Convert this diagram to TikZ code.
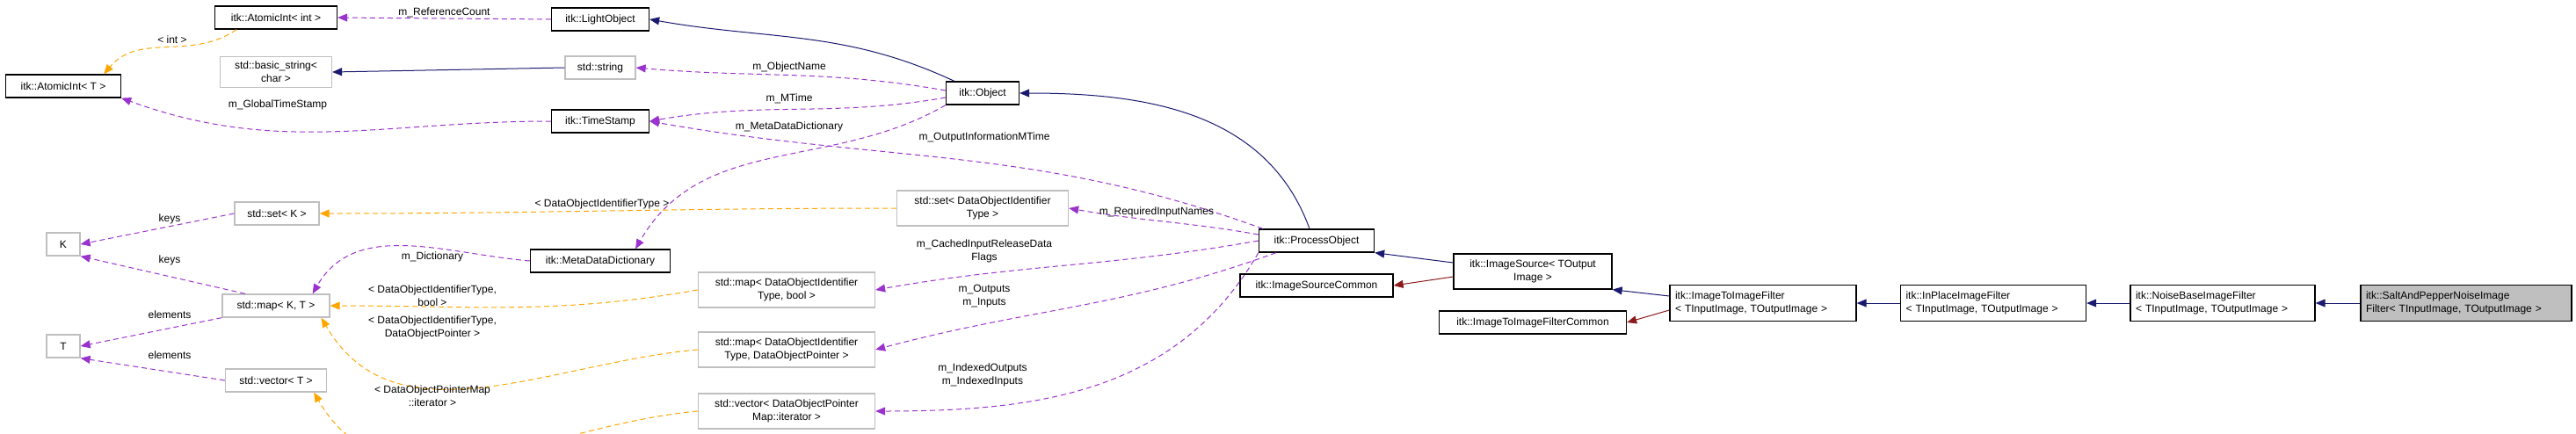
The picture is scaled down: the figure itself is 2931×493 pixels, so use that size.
\documentclass[tikz,border=0pt]{standalone}
\usepackage{fontspec}
\setmainfont{Liberation Sans}
\usetikzlibrary{arrows.meta,calc}
\definecolor{mem}{HTML}{9A32CD}
\definecolor{tpl}{HTML}{FFA500}
\definecolor{inh}{HTML}{191970}
\definecolor{prv}{HTML}{8B1A1A}
\definecolor{gbd}{HTML}{BFBFBF}
\begin{document}
\begin{tikzpicture}[x=1pt,y=-1pt,
  every node/.style={font=\fontsize{12}{15}\selectfont},
  box/.style={draw=black,line width=1.3pt,fill=white,inner sep=0pt,align=center},
  gbox/.style={box,draw=gbd},
  lbl/.style={align=center,inner sep=1pt},
  tip/.style={-{Triangle[length=11pt,width=9pt]}},
  mem/.style={tip,draw=mem,dash pattern=on 6pt off 4pt,line width=1pt},
  tpl/.style={tip,draw=tpl,dash pattern=on 6pt off 4pt,line width=1pt},
  inh/.style={tip,draw=inh,line width=1pt},
  prv/.style={tip,draw=prv,line width=1pt}]
\useasboundingbox (0,0) rectangle (2931,493);
% nodes
\node[box,minimum width=139,minimum height=26] (ai) at (314,20) {itk::AtomicInt< int >};
\node[box,minimum width=111,minimum height=26] (lo) at (683,22) {itk::LightObject};
\node[gbox,minimum width=127,minimum height=35] (bs) at (314,82) {std::basic\_string<\\char >};
\node[gbox,minimum width=80,minimum height=26] (ss) at (683,77) {std::string};
\node[box,minimum width=131,minimum height=26] (at) at (72,98) {itk::AtomicInt< T >};
\node[box,minimum width=111,minimum height=26] (ts) at (683,138) {itk::TimeStamp};
\node[box,minimum width=83,minimum height=26] (ob) at (1118,106) {itk::Object};
\node[gbox,minimum width=96,minimum height=26] (sk) at (315,243) {std::set< K >};
\node[gbox,minimum width=38,minimum height=26] (k) at (72,278) {K};
\node[box,minimum width=159,minimum height=26] (md) at (683,297) {itk::MetaDataDictionary};
\node[gbox,minimum width=122,minimum height=26] (mkt) at (314,348) {std::map< K, T >};
\node[gbox,minimum width=38,minimum height=26] (t) at (72,394) {T};
\node[gbox,minimum width=115,minimum height=26] (vt) at (314,433) {std::vector< T >};
\node[gbox,minimum width=195,minimum height=40] (sd) at (1118,237) {std::set< DataObjectIdentifier\\Type >};
\node[gbox,minimum width=201,minimum height=40] (mb) at (895,330) {std::map< DataObjectIdentifier\\Type, bool >};
\node[gbox,minimum width=201,minimum height=40] (mp) at (895,398) {std::map< DataObjectIdentifier\\Type, DataObjectPointer >};
\node[gbox,minimum width=201,minimum height=40] (vp) at (895,468) {std::vector< DataObjectPointer\\Map::iterator >};
\node[box,minimum width=131,minimum height=26] (po) at (1498,274) {itk::ProcessObject};
\node[box,minimum width=174,minimum height=26] (isc) at (1498,325) {itk::ImageSourceCommon};
\node[box,minimum width=180,minimum height=40] (is) at (1744,309) {itk::ImageSource< TOutput\\Image >};
\node[box,minimum width=213,minimum height=26] (ifc) at (1744,367) {itk::ImageToImageFilterCommon};
\node[box,minimum width=212,minimum height=41,align=left,text width=200] (iif) at (2006,345) {itk::ImageToImageFilter\\< TInputImage, TOutputImage >};
\node[box,minimum width=211,minimum height=41,align=left,text width=199] (ip) at (2268,345) {itk::InPlaceImageFilter\\< TInputImage, TOutputImage >};
\node[box,minimum width=210,minimum height=41,align=left,text width=198] (nb) at (2529,345) {itk::NoiseBaseImageFilter\\< TInputImage, TOutputImage >};
\node[box,fill=gbd,minimum width=240,minimum height=41,align=left,text width=228] (sp) at (2806,345) {itk::SaltAndPepperNoiseImage\\Filter< TInputImage, TOutputImage >};
% edges
\draw[mem] (lo.west) -- (ai.east) node[lbl,midway,above] {m\_ReferenceCount};
\draw[inh] ($(ob.north west)+(10,0)$) to[out=155,in=-10] (lo.east);
\draw[tpl] ($(ai.south)+(-45,0)$) to[out=215,in=50] ($(at.north east)+(-20,0)$);
\node[lbl] (l1) at (196,45) {< int >};
\draw[inh] (ss.west) -- (bs.east);
\draw[mem] ($(ob.west)+(0,-3)$) to[out=170,in=-5] (ss.east);
\node[lbl] (l2) at (898,76) {m\_ObjectName};
\draw[mem] ($(ob.west)+(0,5)$) to[out=190,in=10] (ts.east);
\node[lbl] (l3) at (898,112) {m\_MTime};
\draw[mem] (ts.west) to[out=180,in=-20] (at.south east);
\node[lbl] (l4) at (316,119) {m\_GlobalTimeStamp};
\draw[mem] ($(po.north west)+(5,0)$) to[out=160,in=-10] (ts.east);
\node[lbl] (l5) at (1120,156) {m\_OutputInformationMTime};
\draw[mem] (ob.south west) to[out=210,in=60] ($(md.north)+(40,0)$);
\node[lbl] (l6) at (898,144) {m\_MetaDataDictionary};
\draw[mem] (md.west) to[out=175,in=60] ($(mkt.north east)+(-20,0)$);
\node[lbl] (l7) at (492,292) {m\_Dictionary};
\draw[mem] (sk.west) -- (k.east);
\node[lbl] (l8) at (193,249) {keys};
\draw[mem] ($(mkt.north)+(-35,0)$) -- (k.south east);
\node[lbl] (l9) at (193,296) {keys};
\draw[mem] (mkt.south west) -- (t.east);
\node[lbl] (l10) at (193,358) {elements};
\draw[mem] (vt.west) -- (t.south east);
\node[lbl] (l11) at (193,404) {elements};
\draw[tpl] (sd.west) to[out=180,in=0] (sk.east);
\node[lbl] (l12) at (685,232) {< DataObjectIdentifierType >};
\draw[tpl] (mb.west) to[out=190,in=0] (mkt.east);
\node[lbl] (l13) at (492,337) {< DataObjectIdentifierType,\\bool >};
\draw[tpl] (mp.west) to[out=185,in=-60] ($(mkt.south east)+(-10,0)$);
\node[lbl] (l14) at (492,373) {< DataObjectIdentifierType,\\DataObjectPointer >};
\draw[tpl] (vp.west) to[out=185,in=-60] ($(vt.south east)+(-15,0)$);
\node[lbl] (l15) at (492,451) {< DataObjectPointerMap\\::iterator >};
\draw[mem] ($(po.west)+(0,-7)$) to[out=170,in=-10] (sd.east);
\node[lbl] (l16) at (1316,241) {m\_RequiredInputNames};
\draw[mem] (po.west) to[out=190,in=10] (mb.east);
\node[lbl] (l17) at (1120,286) {m\_CachedInputReleaseData\\Flags};
\draw[mem] ($(po.south west)+(20,0)$) to[out=200,in=15] (mp.east);
\node[lbl] (l18) at (1120,337) {m\_Outputs\\m\_Inputs};
\draw[mem] (po.south west) to[out=240,in=0] (vp.east);
\node[lbl] (l19) at (1118,427) {m\_IndexedOutputs\\m\_IndexedInputs};
\draw[inh] ($(po.north)+(-8,0)$) to[out=110,in=0] (ob.east);
\draw[inh] ($(is.west)+(0,-10)$) -- (po.south east);
\draw[prv] ($(is.west)+(0,6)$) -- (isc.east);
\draw[inh] ($(iif.west)+(0,-8)$) -- (is.south east);
\draw[prv] ($(iif.west)+(0,8)$) -- (ifc.east);
\draw[inh] (ip.west) -- (iif.east);
\draw[inh] (nb.west) -- (ip.east);
\draw[inh] (sp.west) -- (nb.east);
\end{tikzpicture}
\end{document}
